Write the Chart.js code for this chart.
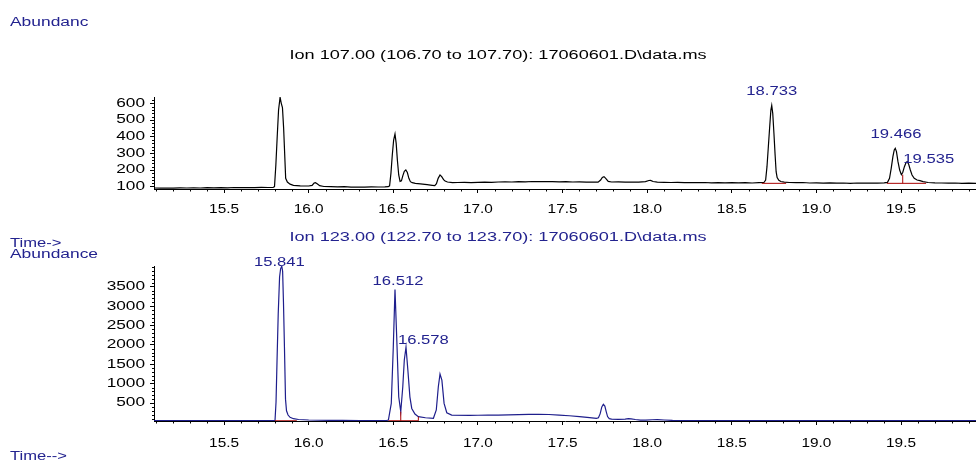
<!DOCTYPE html>
<html><head><meta charset="utf-8">
<script src="https://cdn.jsdelivr.net/npm/chart.js@4.4.1/dist/chart.umd.min.js"></script>
<style>
html,body{margin:0;padding:0;background:#fff;}
#wrap{position:relative;width:976px;height:460px;overflow:hidden;background:#fff;}
canvas{position:absolute;left:0;top:0;}
.t{position:absolute;white-space:nowrap;font-family:"Liberation Sans",Arial,sans-serif;line-height:1;}
.l{transform-origin:0 50%;}
.c{transform-origin:50% 50%;}
</style></head><body>
<div id="wrap">
<canvas id="c1" width="976" height="460"></canvas>
<canvas id="c2" width="976" height="460"></canvas>
<div class="t l" style="left:10px;top:16px;font-size:12px;color:#23238f;transform:scaleX(1.45)">Abundanc</div>
<div class="t c" style="left:498px;top:49px;font-size:12.5px;color:#000;transform:translateX(-50%) scaleX(1.45)">Ion 107.00 (106.70 to 107.70): 17060601.D\data.ms</div>
<div class="t l" style="left:10px;top:237px;font-size:12px;color:#23238f;transform:scaleX(1.38)">Time-&gt;</div>
<div class="t l" style="left:10px;top:248px;font-size:12px;color:#23238f;transform:scaleX(1.45)">Abundance</div>
<div class="t c" style="left:498px;top:231px;font-size:12.5px;color:#23238f;transform:translateX(-50%) scaleX(1.45)">Ion 123.00 (122.70 to 123.70): 17060601.D\data.ms</div>
<div class="t l" style="left:10px;top:450px;font-size:12px;color:#23238f;transform:scaleX(1.38)">Time--&gt;</div>
</div>
<script>
// ---------- data ----------
const xMin = 15.086, xMax = 19.943;
const xMajor = [15.5, 16.0, 16.5, 17.0, 17.5, 18.0, 18.5, 19.0, 19.5];
const xTickText = ['15.5','16.0','16.5','17.0','17.5','18.0','18.5','19.0','19.5'];
const topYTicks = [100, 200, 300, 400, 500, 600];
const botYTicks = [500, 1000, 1500, 2000, 2500, 3000, 3500];

// Ion 107 trace (time, abundance)
const topTimes = [15.086,15.12,15.16,15.2,15.24,15.28,15.32,15.36,15.40,15.44,15.48,15.52,15.56,15.60,15.64,15.68,15.72,15.76,15.79,
 15.798,15.806,15.814,15.822,15.831,15.838,15.845,15.852,15.858,15.864,15.874,15.89,15.91,15.95,16.0,
 16.02,16.032,16.04,16.05,16.065,16.09,16.13,16.17,16.21,16.25,16.29,16.33,16.37,16.41,16.45,16.47,
 16.478,16.486,16.494,16.502,16.51,16.517,16.524,16.532,16.54,16.548,16.556,16.565,16.574,16.583,16.592,16.601,16.612,16.63,16.66,16.7,16.73,16.745,
 16.755,16.765,16.776,16.786,16.797,16.806,16.82,16.85,
 16.88,16.92,16.96,17.0,17.04,17.08,17.12,17.16,17.2,17.24,17.28,17.32,17.36,17.4,17.44,17.48,17.52,17.56,17.6,17.64,17.68,17.71,
 17.725,17.735,17.745,17.755,17.77,17.79,17.83,17.87,17.91,17.95,17.99,18.01,18.02,18.035,18.06,18.1,18.14,18.18,18.22,18.26,18.3,18.34,18.38,18.42,18.46,18.5,18.54,18.58,18.62,18.66,18.69,
 18.70,18.708,18.716,18.724,18.731,18.736,18.742,18.749,18.756,18.762,18.768,18.778,18.79,18.81,18.84,18.88,18.92,18.96,19.0,19.04,19.08,19.12,19.16,19.2,19.24,19.28,19.32,19.36,19.40,
 19.42,19.432,19.442,19.452,19.46,19.466,19.473,19.482,19.492,19.502,19.51,19.52,19.53,19.537,19.545,19.555,19.565,19.578,19.595,19.612,19.63,19.66,19.7,19.74,19.78,19.82,19.86,19.9,19.943];
const topAbund = [92,91,92,91,93,92,93,92,94,93,94,93,95,94,95,94,96,95,96,
 100,230,400,560,636,600,575,450,300,150,128,115,108,105,104,
 108,122,124,118,106,101,100,99,100,97,98,97,99,98,99,100,
 105,180,290,380,416,360,260,170,132,135,165,192,200,185,150,130,124,120,117,112,108,106,
 118,150,170,160,142,134,128,124,
 125,126,124,126,127,126,128,129,128,130,129,131,130,131,130,129,130,128,129,127,128,127,
 140,155,160,150,132,128,129,127,128,127,130,137,138,131,127,126,125,126,124,125,124,125,123,124,123,124,123,124,122,124,125,
 140,220,340,460,560,588,540,420,290,190,155,138,131,127,125,124,125,122,123,121,123,121,122,120,122,121,122,121,123,
 126,150,210,280,320,330,310,250,200,172,185,220,245,250,235,200,170,150,140,136,130,125,123,122,121,122,120,121,120];

// Ion 123 trace (time, abundance)
const botTimes = [15.086,15.15,15.22,15.3,15.38,15.46,15.54,15.62,15.7,15.76,15.79,
 15.801,15.807,15.813,15.82,15.828,15.834,15.841,15.846,15.851,15.857,15.863,15.869,15.878,15.89,15.91,15.94,16.0,
 16.06,16.12,16.2,16.3,16.4,16.46,
 16.471,16.488,16.5,16.51,16.52,16.532,16.544,16.556,16.565,16.575,16.586,16.598,16.609,16.628,16.648,16.69,16.737,
 16.754,16.766,16.776,16.787,16.8,16.816,16.845,16.953,
 17.0,17.06,17.12,17.18,17.24,17.3,17.36,17.42,17.48,17.54,17.6,17.66,17.7,
 17.712,17.722,17.732,17.741,17.75,17.758,17.766,17.776,17.79,17.83,17.87,17.89,17.905,17.93,17.96,17.99,18.03,18.06,18.1,18.15,18.22,
 18.3,18.45,18.6,18.75,18.9,19.05,19.2,19.35,19.5,19.65,19.8,19.943];
const botAbund = [46,45,46,45,46,45,46,45,46,45,45,
 50,520,1600,2800,3750,3960,4030,3900,3100,1900,600,300,190,130,95,75,62,
 55,52,50,49,48,48,
 62,490,1950,3430,2210,660,276,920,1610,1940,1350,660,360,216,147,120,106,
 320,920,1247,1090,490,250,190,183,
 184,186,190,196,202,206,208,204,190,172,150,125,105,
 118,220,400,468,420,280,150,95,85,80,82,95,92,75,60,58,68,74,62,50,46,
 45,45,44,45,44,45,44,44,45,44,44,44];

// peak annotations (apex time, apex abundance, text)
const topPeakTimes = [18.736, 19.466, 19.537];
const topPeakAbund = [588, 330, 250];
const topPeakText = ['18.733', '19.466', '19.535'];
const botPeakTimes = [15.841, 16.510, 16.575];
const botPeakAbund = [4030, 3430, 1940];
const botPeakText = ['15.841', '16.512', '16.578'];

// integration baselines: [t1, v1, t2, v2]
const topIntSegs = [[18.677,120,18.821,120],[19.416,120,19.648,120],[19.51,120,19.51,172]];
const botIntSegs = [[15.80,42,15.93,42],[16.471,42,16.648,42],[16.544,42,16.544,276],[16.648,42,16.648,147]];

// ---------- styles ----------
const RED = '#a80000';
const NAVY = '#23238f';
const FONT = '"Liberation Sans", Arial, sans-serif';
const topLabelStyle = [{dx:0,dy:-14,align:'center'},{dx:0.7,dy:-14,align:'center'},{dx:-4,dy:-2,align:'left'}];
const botLabelStyle = [{dx:-2.4,dy:-4,align:'center'},{dx:3,dy:-8,align:'center'},{dx:-8,dy:-7,align:'left'}];

function drawStretched(ctx, text, x, y, align, font, sx, color){
  ctx.save();
  ctx.translate(x, y);
  ctx.scale(sx, 1);
  ctx.font = font;
  ctx.fillStyle = color;
  ctx.textAlign = align;
  ctx.textBaseline = 'middle';
  ctx.fillText(text, 0, 0);
  ctx.restore();
}

function segPoints(segs){
  const pts = [];
  segs.forEach(s => {
    pts.push({x:s[0], y:s[1]});
    pts.push({x:s[2], y:s[3]});
    pts.push({x:s[2], y:null});
  });
  return pts;
}

function decoPlugin(cfg){
  return {
    id: 'deco' + cfg.id,
    afterDraw(chart){
      const ctx = chart.ctx, xs = chart.scales.x, ys = chart.scales.y, ca = chart.chartArea;
      ctx.save();
      ctx.strokeStyle = '#000';
      ctx.lineWidth = 1;
      ctx.beginPath();
      for (let k = 151; k <= 199; k++){
        if (k % 5 === 0) continue;
        const px = Math.round(xs.getPixelForValue(k / 10)) + 0.5;
        ctx.moveTo(px, ca.bottom); ctx.lineTo(px, ca.bottom + 2.5);
      }
      const st = cfg.yMinorStep;
      for (let v = Math.ceil(ys.min / st) * st; v <= ys.max; v += st){
        if (cfg.yTicks.indexOf(v) >= 0) continue;
        const py = Math.round(ys.getPixelForValue(v)) + 0.5;
        ctx.moveTo(ca.left - 2, py); ctx.lineTo(ca.left, py);
      }
      ctx.stroke();
      xMajor.forEach((v, i) => {
        drawStretched(ctx, xTickText[i], xs.getPixelForValue(v), ca.bottom + cfg.xLabelOff, 'center', '12px ' + FONT, 1.28, '#000');
      });
      cfg.yTicks.forEach(v => {
        drawStretched(ctx, String(v), ca.left - 9, ys.getPixelForValue(v), 'right', '12.5px ' + FONT, 1.38, '#000');
      });
      cfg.peakTimes.forEach((t, i) => {
        const st2 = cfg.labelStyle[i];
        drawStretched(ctx, cfg.peakText[i], xs.getPixelForValue(t) + st2.dx, ys.getPixelForValue(cfg.peakAbund[i]) + st2.dy, st2.align, '12.5px ' + FONT, 1.33, NAVY);
      });
      ctx.restore();
    }
  };
}

function makeChart(cfg){
  const axisGrid = {drawOnChartArea:false, drawTicks:true, tickLength:4, color:'#000', tickColor:'#000', lineWidth:1};
  return new Chart(document.getElementById(cfg.id), {
    type: 'line',
    data: {datasets: [
      {data: segPoints(cfg.segs), borderColor: RED, borderWidth: 1, pointRadius: 0, spanGaps: false, tension: 0},
      {data: cfg.times.map((t, i) => ({x: t, y: cfg.vals[i]})), borderColor: cfg.color, borderWidth: 1.2, pointRadius: 0, tension: 0}
    ]},
    options: {
      responsive: false, animation: false, devicePixelRatio: 1,
      layout: {padding: {top: cfg.top, left: 0, right: 0, bottom: 0}},
      plugins: {legend: {display: false}, tooltip: {enabled: false}, title: {display: false}},
      scales: {
        x: {type: 'linear', min: xMin, max: xMax,
            afterBuildTicks: s => { s.ticks = xMajor.map(v => ({value: v})); },
            afterFit: s => { s.height = cfg.xh; },
            ticks: {display: false}, grid: axisGrid,
            border: {display: true, color: '#000', width: 1}},
        y: {type: 'linear', min: cfg.yMin, max: cfg.yMax,
            afterBuildTicks: s => { s.ticks = cfg.yTicks.map(v => ({value: v})); },
            afterFit: s => { s.width = 154; },
            ticks: {display: false}, grid: axisGrid,
            border: {display: true, color: '#000', width: 1}}
      }
    },
    plugins: [decoPlugin(cfg)]
  });
}

makeChart({id:'c1', top:97, xh:271, yMin:86, yMax:638, yTicks: topYTicks, yMinorStep:20,
  times: topTimes, vals: topAbund, color:'#000', segs: topIntSegs,
  peakTimes: topPeakTimes, peakAbund: topPeakAbund, peakText: topPeakText, labelStyle: topLabelStyle, xLabelOff: 21});
makeChart({id:'c2', top:266, xh:39, yMin:36, yMax:4034, yTicks: botYTicks, yMinorStep:100,
  times: botTimes, vals: botAbund, color:'#1e1e8c', segs: botIntSegs,
  peakTimes: botPeakTimes, peakAbund: botPeakAbund, peakText: botPeakText, labelStyle: botLabelStyle, xLabelOff: 23});
</script>
</body></html>
